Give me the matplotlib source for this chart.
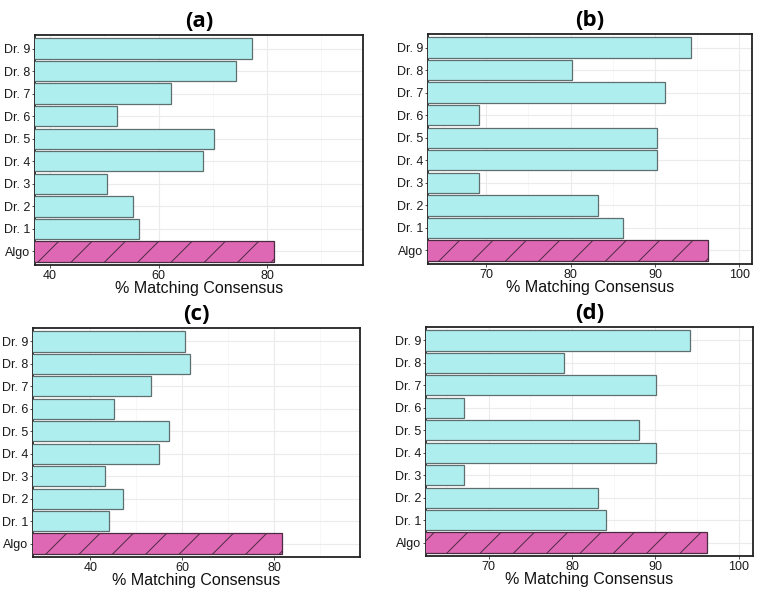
import numpy as np
import matplotlib
matplotlib.use("Agg")
import matplotlib.pyplot as plt

# Data
labels = ["Algo", "Dr. 1", "Dr. 2", "Dr. 3", "Dr. 4", "Dr. 5", "Dr. 6", "Dr. 7", "Dr. 8", "Dr. 9"]

vals_a = [81.2, 56.3, 55.2, 50.4, 68.2, 70.2, 52.4, 62.3, 74.2, 77.2]
vals_b = [96.3, 86.2, 83.3, 69.2, 90.2, 90.2, 69.2, 91.2, 80.2, 94.3]
vals_c = [81.6, 44.1, 47.1, 43.2, 54.9, 57.0, 45.2, 53.1, 61.7, 60.6]
vals_d = [96.2, 84.1, 83.1, 67.1, 90.1, 88.0, 67.1, 90.1, 79.1, 94.2]

panel_titles = ["(a)", "(b)", "(c)", "(d)"]
xlims = [(37.2, 97.7), (63.1, 101.5), (27.5, 98.6), (62.5, 101.7)]
xticks = [[40, 60, 80], [70, 80, 90, 100], [40, 60, 80], [70, 80, 90, 100]]

plt.rcParams["font.family"] = ["Liberation Sans", "DejaVu Sans"]
plt.rcParams["hatch.linewidth"] = 0.7

fig = plt.figure(figsize=(7.6, 5.9), dpi=100)
W, H = 760, 590
# axes boxes in pixels: left, top, right, bottom
boxes = [(35, 35, 363, 265), (428, 34, 752, 264), (33, 328, 360, 557), (426, 327, 753, 556)]

for vals, title, xl, xt, box in zip([vals_a, vals_b, vals_c, vals_d], panel_titles, xlims, xticks, boxes):
    l, t, r, b = box
    ax = fig.add_axes([l / W, 1 - b / H, (r - l) / W, (b - t) / H])
    y = np.arange(len(labels))
    colors = ["#DF68B4"] + ["#AFEEEE"] * (len(labels) - 1)
    edges = ["#4a2c42"] + ["#5f6f6f"] * (len(labels) - 1)
    bars = ax.barh(y, vals, height=0.9, color=colors, edgecolor=edges, linewidth=0.9, zorder=3)
    bars[0].set_hatch("/")
    ax.set_xticks(xt)
    step = xt[1] - xt[0]
    minor = [v + step / 2 for v in [xt[0] - step] + xt]
    ax.set_xticks(minor, minor=True)
    ax.set_yticks(y)
    ax.set_yticklabels(labels)
    ax.set_ylim(-0.6, len(labels) - 0.4)
    ax.set_xlim(*xl)
    ax.grid(True, which="major", color="#ebebeb", linewidth=0.8, zorder=0)
    ax.grid(True, which="minor", axis="x", color="#f4f4f4", linewidth=0.5, zorder=0)
    ax.tick_params(axis="both", which="major", labelsize=9, length=2.5, width=0.6,
                   color="#333333", pad=1, labelcolor="#1a1a1a")
    ax.tick_params(axis="x", which="minor", length=0)
    for s in ax.spines.values():
        s.set_color("#222222")
        s.set_linewidth(1.3)
    ax.set_xlabel("% Matching Consensus", fontsize=11.5, labelpad=-0.5, color="#111111")
    ax.set_title(title, fontsize=16, fontweight="bold", family=["Open Sans", "DejaVu Sans"], pad=6)

fig.savefig("out.png", dpi=100, facecolor="white")
